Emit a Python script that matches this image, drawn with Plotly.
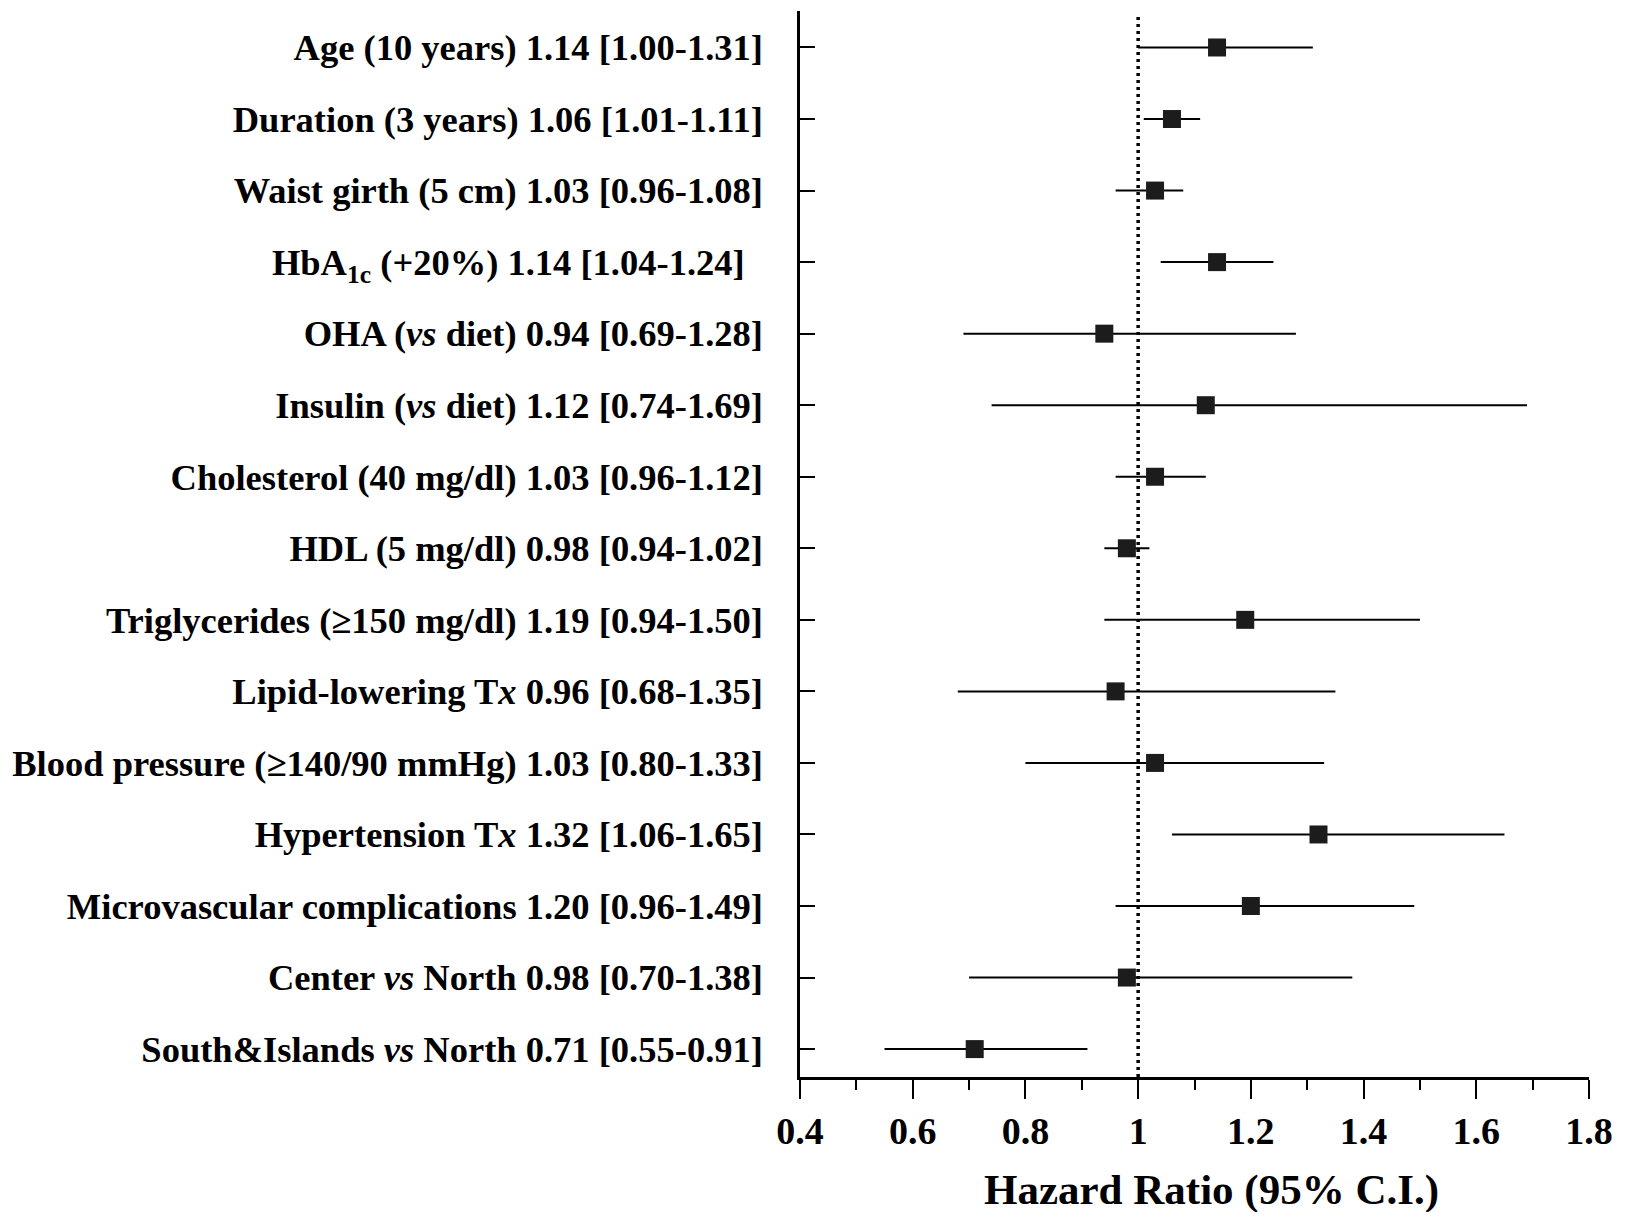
import plotly.graph_objects as go

# Risk factors and their hazard ratios with 95% confidence intervals
factors = [
    "Age (10 years)",
    "Duration (3 years)",
    "Waist girth (5 cm)",
    "HbA<sub>1c</sub> (+20%)",
    "OHA (<i>vs</i> diet)",
    "Insulin (<i>vs</i> diet)",
    "Cholesterol (40 mg/dl)",
    "HDL (5 mg/dl)",
    "Triglycerides (≥150 mg/dl)",
    "Lipid-lowering T<i>x</i>",
    "Blood pressure (≥140/90 mmHg)",
    "Hypertension T<i>x</i>",
    "Microvascular complications",
    "Center <i>vs</i> North",
    "South&amp;Islands <i>vs</i> North",
]
hazard_ratio = [1.14, 1.06, 1.03, 1.14, 0.94, 1.12, 1.03, 0.98, 1.19, 0.96, 1.03, 1.32, 1.20, 0.98, 0.71]
ci_low = [1.00, 1.01, 0.96, 1.04, 0.69, 0.74, 0.96, 0.94, 0.94, 0.68, 0.80, 1.06, 0.96, 0.70, 0.55]
ci_high = [1.31, 1.11, 1.08, 1.24, 1.28, 1.69, 1.12, 1.02, 1.50, 1.35, 1.33, 1.65, 1.49, 1.38, 0.91]
x_ticks = [0.4, 0.6, 0.8, 1.0, 1.2, 1.4, 1.6, 1.8]
x_tick_text = ["0.4", "0.6", "0.8", "1", "1.2", "1.4", "1.6", "1.8"]

rows = list(range(len(factors)))
labels = []
for name, hr, lo, hi in zip(factors, hazard_ratio, ci_low, ci_high):
    text = f"{name} {hr:.2f} [{lo:.2f}-{hi:.2f}]"
    if name.startswith("HbA"):
        text += "\u00a0\u00a0"
    labels.append(text)

fig = go.Figure()

# Confidence interval segments
ci_x, ci_y = [], []
for r, lo, hi in zip(rows, ci_low, ci_high):
    ci_x += [lo, hi, None]
    ci_y += [r, r, None]
fig.add_trace(go.Scatter(
    x=ci_x, y=ci_y, mode="lines",
    line=dict(color="black", width=2),
    hoverinfo="skip", showlegend=False,
))

# Point estimates
fig.add_trace(go.Scatter(
    x=hazard_ratio, y=rows, mode="markers",
    marker=dict(symbol="square", size=18, color="#1c1c1c", line=dict(width=0)),
    showlegend=False,
))

# Reference line at HR = 1
fig.add_shape(
    type="line", xref="x", yref="paper", x0=1, x1=1, y0=0, y1=0.997,
    line=dict(color="black", width=3.5, dash="3px,4px"),
)

serif = "Liberation Serif, Times New Roman, serif"

fig.update_layout(
    width=1639, height=1212,
    margin=dict(l=800, r=50, t=11, b=135),
    plot_bgcolor="white", paper_bgcolor="white",
    font=dict(family=serif, color="black"),
    xaxis=dict(
        range=[0.4, 1.8], tickvals=x_ticks, ticktext=x_tick_text,
        showline=True, linecolor="black", linewidth=2.5,
        ticks="outside", ticklen=19, tickwidth=2, tickcolor="black",
        minor=dict(dtick=0.1, tick0=0.4, ticks="outside", ticklen=10, tickwidth=2, tickcolor="black"),
        showgrid=False, zeroline=False,
        tickfont=dict(family=serif, size=38, weight="bold", color="black"),
    ),
    yaxis=dict(
        range=[len(factors) - 1 + 0.39, -0.51],
        tickvals=rows, ticktext=labels,
        showline=True, linecolor="black", linewidth=2.5,
        ticks="inside", ticklen=15, tickwidth=2, tickcolor="black",
        ticklabelstandoff=27,
        showgrid=False, zeroline=False,
        tickfont=dict(family=serif, size=36.5, weight="bold", color="black"),
    ),
)

fig.add_annotation(
    text="Hazard Ratio (95% C.I.)", xref="paper", yref="paper",
    x=0.521, y=-0.106, xanchor="center", yanchor="middle", showarrow=False,
    font=dict(family=serif, size=43, weight="bold", color="black"),
)

fig.write_html("out.html")
